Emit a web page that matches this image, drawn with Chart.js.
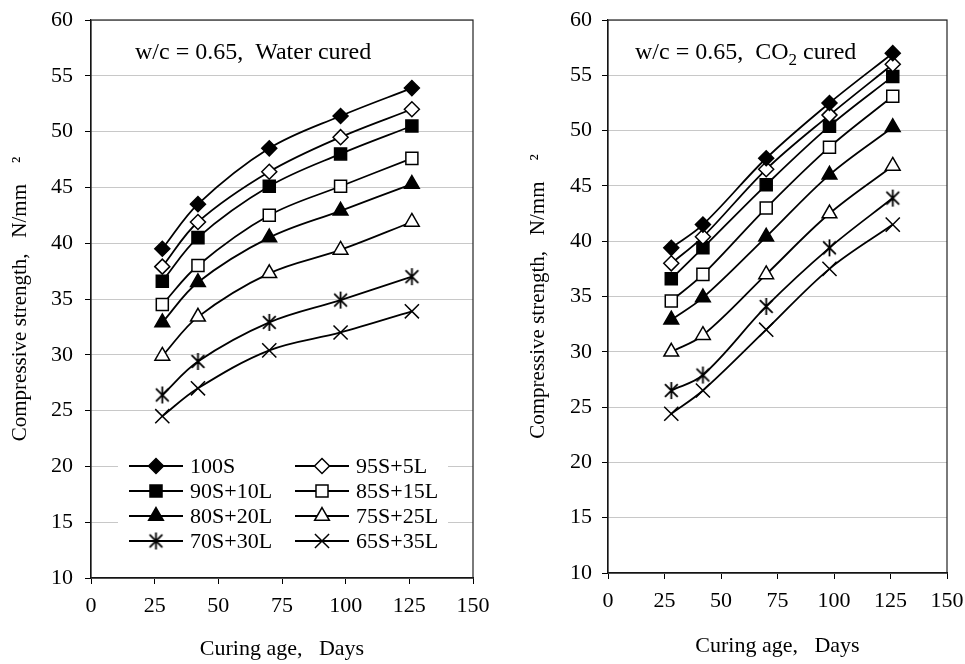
<!DOCTYPE html>
<html>
<head>
<meta charset="utf-8">
<script src="https://cdn.jsdelivr.net/npm/chart.js@4.4.0/dist/chart.umd.min.js"></script>
<style>
  body { margin: 0; background: #fff; }
  #wrap { position: relative; width: 965px; height: 664px; overflow: hidden; }
  canvas { position: absolute; top: 0; }
  #waterChart { left: 0; }
  #co2Chart { left: 482px; }
</style>
</head>
<body>
<div id="wrap">
  <canvas id="waterChart" width="500" height="664"></canvas>
  <canvas id="co2Chart" width="483" height="664"></canvas>
</div>
<script>
// curing ages (days)
const days = [28, 42, 70, 98, 126];
const mixes = ['100S', '95S+5L', '90S+10L', '85S+15L', '80S+20L', '75S+25L', '70S+30L', '65S+35L'];

// compressive strength, N/mm2 - one row per mix
const waterCured = [
    [39.5, 43.5, 48.5, 51.4, 53.9],
    [37.9, 41.9, 46.4, 49.5, 52.0],
    [36.6, 40.5, 45.1, 48.0, 50.5],
    [34.5, 38.0, 42.5, 45.1, 47.6],
    [32.9, 36.5, 40.5, 42.9, 45.3],
    [29.9, 33.4, 37.3, 39.4, 41.9],
    [26.4, 29.4, 32.9, 34.9, 37.0],
    [24.5, 27.0, 30.4, 32.0, 33.9]
];
const co2Cured = [
    [39.4, 41.5, 47.5, 52.5, 57.0],
    [38.0, 40.4, 46.5, 51.4, 56.0],
    [36.6, 39.4, 45.1, 50.4, 54.9],
    [34.6, 37.0, 43.0, 48.5, 53.1],
    [32.9, 34.9, 40.4, 46.0, 50.3],
    [30.0, 31.5, 37.0, 42.5, 46.8],
    [26.5, 27.9, 34.1, 39.4, 43.9],
    [24.4, 26.5, 32.0, 37.5, 41.5]
];

const xTicks = [0, 25, 50, 75, 100, 125, 150];
const yTicks = [10, 15, 20, 25, 30, 35, 40, 45, 50, 55, 60];

const serif = 'Liberation Serif';

// asterisk marker like the excel one (x plus a vertical bar)
function starMarker(size) {
    const c = document.createElement('canvas');
    c.width = c.height = size;
    const g = c.getContext('2d');
    const m = size / 2, r = size / 2 - 1, d = r * 0.75;
    g.strokeStyle = '#000';
    g.lineWidth = 1.8;
    g.beginPath();
    g.moveTo(m - d, m - d); g.lineTo(m + d, m + d);
    g.moveTo(m + d, m - d); g.lineTo(m - d, m + d);
    g.moveTo(m, m - r); g.lineTo(m, m + r);
    g.stroke();
    return c;
}

const markers = [
    { style: 'rectRot', fill: '#000', r: 7.5 },
    { style: 'rectRot', fill: '#fff', r: 7.5 },
    { style: 'rect', fill: '#000', r: 8.5 },
    { style: 'rect', fill: '#fff', r: 8.5 },
    { style: 'triangle', fill: '#000', r: 8.5 },
    { style: 'triangle', fill: '#fff', r: 8.5 },
    { style: starMarker(19), fill: '#000', r: 9 },
    { style: 'crossRot', fill: '#000', r: 10 }
];

function buildDatasets(rows) {
    return rows.map((vals, i) => ({
        label: mixes[i],
        data: vals.map((v, j) => ({ x: days[j], y: v })),
        borderColor: '#000',
        borderWidth: 1.8,
        tension: 0.35,
        pointStyle: markers[i].style,
        pointRadius: markers[i].r,
        pointBackgroundColor: markers[i].fill,
        pointBorderColor: '#000',
        pointBorderWidth: 1.5
    }));
}

// box around the plot area
const plotFrame = {
    id: 'plotFrame',
    afterDraw(chart) {
        const a = chart.chartArea, ctx = chart.ctx;
        ctx.save();
        ctx.strokeStyle = '#222';
        ctx.lineWidth = 1.2;
        ctx.strokeRect(a.left, a.top, a.right - a.left, a.bottom - a.top);
        ctx.restore();
    }
};

// "w/c = 0.65, ..." note, parts may be subscript
const note = {
    id: 'note',
    afterDraw(chart, args, opts) {
        const ctx = chart.ctx;
        let x = chart.chartArea.left + opts.dx;
        const y = chart.chartArea.top + opts.dy;
        ctx.save();
        ctx.fillStyle = '#000';
        ctx.textBaseline = 'alphabetic';
        opts.parts.forEach(p => {
            ctx.font = (p.sub ? 17 : 24) + 'px "' + serif + '"';
            ctx.fillText(p.t, x, p.sub ? y + 6 : y);
            x += ctx.measureText(p.t).width;
        });
        ctx.restore();
    }
};

// two-column legend inside the plot
const insideLegend = {
    id: 'insideLegend',
    afterDatasetsDraw(chart, args, opts) {
        if (!opts.show) return;
        const ctx = chart.ctx, a = chart.chartArea;
        ctx.save();
        ctx.fillStyle = '#fff';
        ctx.fillRect(a.left + 27, a.top + 430, 330, 106);
        ctx.font = '22px "' + serif + '"';
        ctx.textBaseline = 'middle';
        chart.data.datasets.forEach((ds, i) => {
            const lx = a.left + 38 + (i % 2) * 166;
            const ly = a.top + 446 + Math.floor(i / 2) * 25;
            ctx.strokeStyle = '#000';
            ctx.lineWidth = 1.8;
            ctx.beginPath();
            ctx.moveTo(lx, ly);
            ctx.lineTo(lx + 54, ly);
            ctx.stroke();
            ctx.fillStyle = ds.pointBackgroundColor;
            ctx.lineWidth = ds.pointBorderWidth;
            Chart.helpers.drawPoint(ctx, {
                pointStyle: ds.pointStyle,
                radius: ds.pointRadius,
                borderWidth: ds.pointBorderWidth,
                rotation: 0
            }, lx + 27, ly);
            ctx.fillStyle = '#000';
            ctx.fillText(ds.label, lx + 61, ly + 1);
        });
        ctx.restore();
    }
};

function makeChart(id, rows, cfg) {
    const ctx = document.getElementById(id).getContext('2d');
    return new Chart(ctx, {
        type: 'line',
        data: { datasets: buildDatasets(rows) },
        plugins: [plotFrame, note, insideLegend],
        options: {
            responsive: false,
            animation: false,
            layout: { padding: { left: 0, top: 20, right: cfg.padRight, bottom: 0 } },
            plugins: {
                legend: { display: false },
                tooltip: { enabled: false },
                note: { dx: cfg.noteX, dy: 39, parts: cfg.note },
                insideLegend: { show: cfg.legend }
            },
            scales: {
                x: {
                    type: 'linear',
                    min: xTicks[0],
                    max: xTicks[xTicks.length - 1],
                    afterBuildTicks: s => { s.ticks = xTicks.map(v => ({ value: v })); },
                    afterFit: s => { s.height = cfg.xHeight; s.paddingLeft = 0; s.paddingRight = 0; },
                    grid: { drawOnChartArea: false, tickLength: 6, tickColor: '#000' },
                    border: { color: '#000', width: 1.2 },
                    ticks: { color: '#000', padding: 9, maxRotation: 0, font: { family: serif, size: 22 } },
                    title: {
                        display: true,
                        text: 'Curing age,   Days',
                        color: '#000',
                        font: { family: serif, size: 22 },
                        padding: { top: 0, bottom: cfg.xTitlePad }
                    }
                },
                y: {
                    min: yTicks[0],
                    max: yTicks[yTicks.length - 1],
                    afterBuildTicks: s => { s.ticks = yTicks.map(v => ({ value: v })); },
                    afterFit: s => { s.width = cfg.yWidth; s.paddingTop = 0; s.paddingBottom = 0; },
                    grid: { color: '#c8c8c8', lineWidth: 1, tickLength: 6, tickColor: '#000' },
                    border: { color: '#000', width: 1.2 },
                    ticks: { color: '#000', padding: cfg.yTickPad, font: { family: serif, size: 22 } },
                    title: {
                        display: true,
                        text: 'Compressive strength,   N/mm    \u00B2',
                        color: '#000',
                        font: { family: serif, size: 21 },
                        padding: { top: cfg.yTitlePad, bottom: 0 }
                    }
                }
            }
        }
    });
}

makeChart('waterChart', waterCured, {
    padRight: 27, xHeight: 86, yWidth: 91, yTickPad: 12,
    xTitlePad: 2, yTitlePad: 8, noteX: 44, legend: true,
    note: [{ t: 'w/c = 0.65,  Water cured' }]
});

makeChart('co2Chart', co2Cured, {
    padRight: 18, xHeight: 91, yWidth: 126, yTickPad: 10,
    xTitlePad: 5, yTitlePad: 44, noteX: 27, legend: false,
    note: [{ t: 'w/c = 0.65,  CO' }, { t: '2', sub: true }, { t: ' cured' }]
});
</script>
</body>
</html>
